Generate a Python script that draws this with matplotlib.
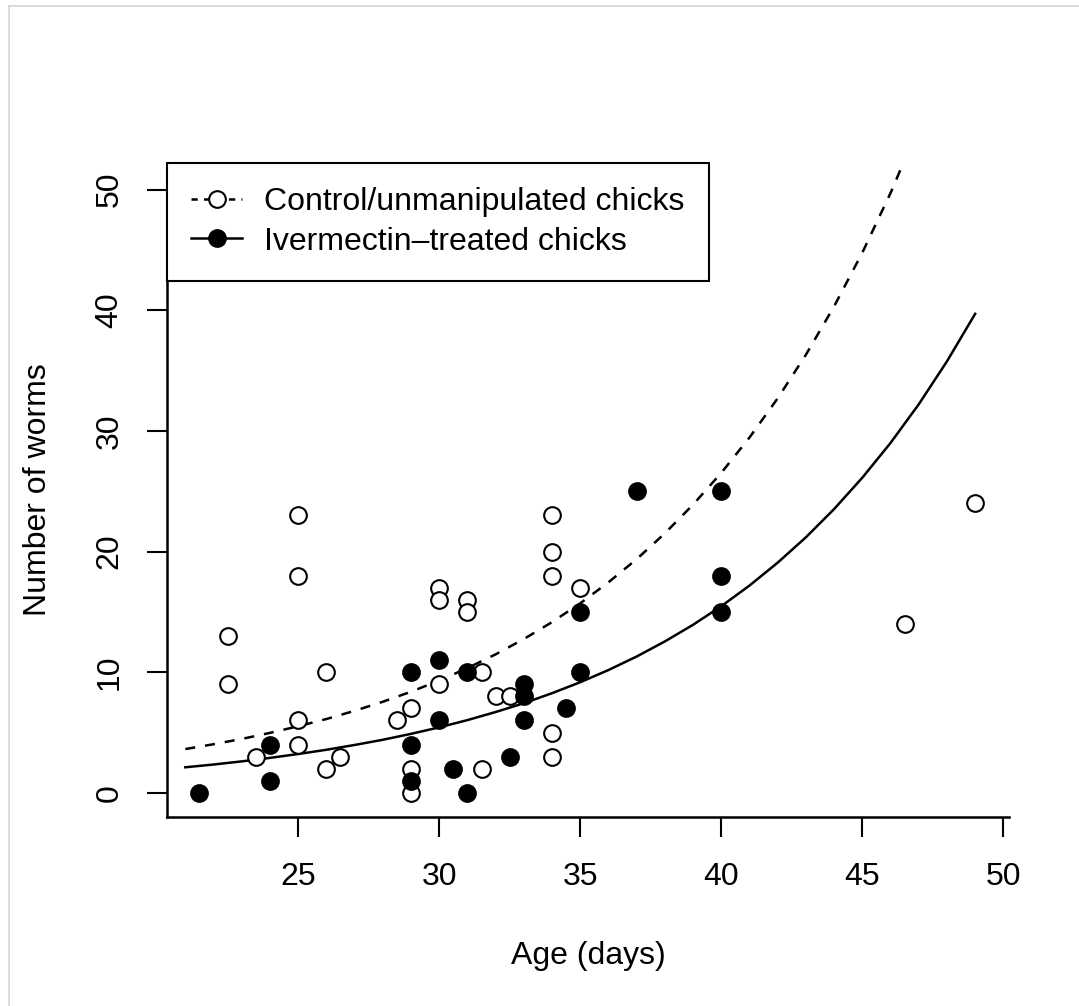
import numpy as np
import matplotlib
matplotlib.use('Agg')
import matplotlib.pyplot as plt
from matplotlib.lines import Line2D

plt.rcParams['font.family'] = ['Liberation Sans', 'DejaVu Sans']

# control / unmanipulated chicks (open circles)
ctrl_age = [22.5, 22.5, 23.5, 25, 25, 25, 25, 26, 26, 26.5, 28.5, 29, 29, 29,
            30, 30, 30, 31, 31, 31.5, 31.5, 32, 32.5, 34, 34, 34, 34, 34, 35,
            46.5, 49]
ctrl_worms = [13, 9, 3, 23, 18, 6, 4, 10, 2, 3, 6, 7, 2, 0,
              17, 16, 9, 16, 15, 10, 2, 8, 8, 23, 20, 18, 5, 3, 17,
              14, 24]

# ivermectin-treated chicks (filled circles)
trt_age = [21.5, 24, 24, 29, 29, 29, 30, 30, 30.5, 31, 31, 32.5, 33, 33, 33,
           34.5, 35, 35, 37, 40, 40, 40]
trt_worms = [0, 4, 1, 10, 4, 1, 11, 6, 2, 10, 0, 3, 9, 8, 6,
             7, 15, 10, 25, 25, 18, 15]

# fitted curves at whole days
fit_ctrl_age = list(range(21, 48))
fit_ctrl = [3.63, 4.03, 4.47, 4.97, 5.52, 6.12, 6.80, 7.55, 8.38, 9.31,
            10.34, 11.48, 12.75, 14.15, 15.71, 17.45, 19.37, 21.51, 23.89,
            26.52, 29.45, 32.70, 36.31, 40.32, 44.77, 49.71, 55.20]
fit_trt_age = list(range(21, 50))
fit_trt = [2.12, 2.35, 2.61, 2.90, 3.22, 3.57, 3.97, 4.40, 4.89, 5.43,
           6.03, 6.70, 7.43, 8.26, 9.17, 10.18, 11.30, 12.55, 13.93, 15.47,
           17.18, 19.08, 21.18, 23.52, 26.12, 29.00, 32.20, 35.76, 39.70]

xticks = [25, 30, 35, 40, 45, 50]
yticks = [0, 10, 20, 30, 40, 50]

W, H = 1079, 1006
fs = 23
fig = plt.figure(figsize=(W / 100, H / 100), dpi=100)
ax = fig.add_axes([167 / W, 1 - 817 / H, (1009 - 167) / W, (817 - 163) / H])

lw = 1.8
ax.plot(fit_ctrl_age, fit_ctrl, color='black', lw=lw, dashes=(4, 4), zorder=2)
ax.plot(fit_trt_age, fit_trt, color='black', lw=lw, zorder=2)
ax.plot(ctrl_age, ctrl_worms, 'o', ms=12, mfc='white', mec='black', mew=1.5,
        ls='none', zorder=3)
ax.plot(trt_age, trt_worms, 'o', ms=12, mfc='black', mec='black', mew=1.5,
        ls='none', zorder=3)

ax.set_xlim(20.35, 50.2)
ax.set_ylim(-2.0, 52.2)
ax.set_xticks(xticks)
ax.set_yticks(yticks)
ax.set_xticklabels([str(t) for t in xticks])
ax.set_yticklabels([str(t) for t in yticks], rotation=90, va='center')
ax.tick_params(axis='both', direction='out', length=14.5, width=1.5,
               labelsize=fs, color='black')
ax.tick_params(axis='x', pad=18)
ax.tick_params(axis='y', pad=16)
for side in ['top', 'right']:
    ax.spines[side].set_visible(False)
for side in ['left', 'bottom']:
    ax.spines[side].set_linewidth(1.8)

ax.set_xlabel('Age (days)', fontsize=fs, labelpad=35)
ax.set_ylabel('Number of worms', fontsize=fs, labelpad=30)

handles = [
    Line2D([], [], color='black', lw=lw, dashes=(2.5, 2.5), marker='o', ms=12,
           mfc='white', mec='black', mew=1.5),
    Line2D([], [], color='black', lw=lw, marker='o', ms=12, mfc='black',
           mec='black', mew=1.5),
]
leg = ax.legend(handles, ['Control/unmanipulated chicks', 'Ivermectin\u2013treated chicks'],
                loc='upper left', bbox_to_anchor=(0, 1), borderaxespad=0,
                fontsize=fs, frameon=True, fancybox=False, framealpha=1,
                edgecolor='black', handlelength=1.6, handletextpad=0.7,
                labelspacing=0.3, borderpad=0.75)
leg.get_frame().set_linewidth(1.5)

# faint screenshot frame on the left and top
fig.add_artist(Line2D([9 / W, 9 / W], [0, 1 - 6 / H], color='#d6d6d6', lw=1.2,
                      transform=fig.transFigure))
fig.add_artist(Line2D([9 / W, 1], [1 - 6 / H, 1 - 6 / H], color='#d6d6d6', lw=1.2,
                      transform=fig.transFigure))

fig.savefig('out.png', dpi=100)
